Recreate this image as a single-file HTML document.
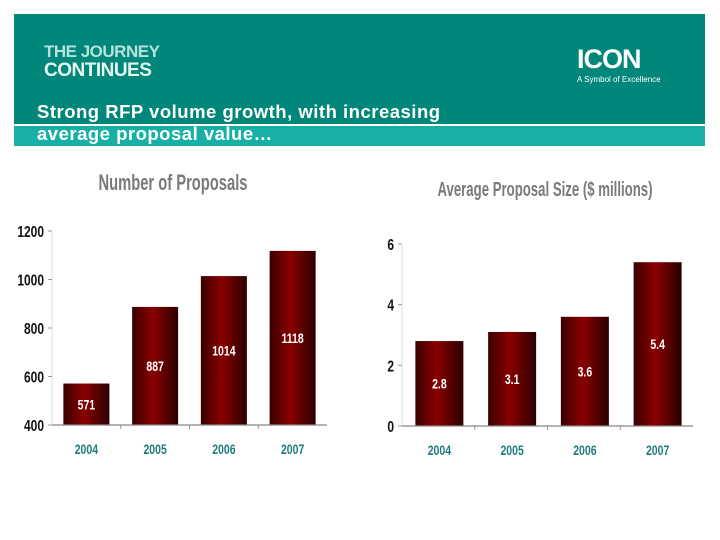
<!DOCTYPE html>
<html><head><meta charset="utf-8"><style>
body{margin:0;width:720px;height:540px;background:#fff;font-family:"Liberation Sans",sans-serif;position:relative;overflow:hidden}
.abs{position:absolute}
</style></head><body>
<div class="abs" style="left:14px;top:14px;width:691px;height:110px;background:#00877a"></div>
<div class="abs" style="left:14px;top:126px;width:691px;height:20px;background:#17afa6"></div>
<div class="abs" style="left:44px;top:42px;color:#b5e3dc;font-weight:bold;font-size:17px;line-height:19px;letter-spacing:-0.5px">THE JOURNEY<br><span style="color:#e6f5f2;font-size:19px">CONTINUES</span></div>
<div class="abs" style="left:577px;top:44px;color:#fff;font-weight:bold;font-size:27px;letter-spacing:-1px">ICON</div>
<div class="abs" style="left:577px;top:75px;color:#fff;font-size:8px">A Symbol of Excellence</div>
<div class="abs" style="left:37px;top:101px;color:#fff;font-weight:bold;font-size:18.5px;line-height:22px;letter-spacing:0.5px">Strong RFP volume growth, with increasing<br>average proposal value…</div>
<svg class="abs" style="left:0;top:0" width="720" height="540" id="svg">
<defs><linearGradient id="bg" x1="0" x2="1"><stop offset="0" stop-color="#3a0000"/><stop offset="0.45" stop-color="#8a0000"/><stop offset="1" stop-color="#2a0000"/></linearGradient></defs>
</svg>
<script>
const categories=["2004","2005","2006","2007"];
const proposals=[571,887,1014,1118];
const propTicks=[400,600,800,1000,1200];
const avgSize=[2.8,3.1,3.6,5.4];
const avgLabels=["2.8","3.1","3.6","5.4"];
const sizeTicks=[0,2,4,6];
const svg=document.getElementById('svg');
const NS="http://www.w3.org/2000/svg";
function mk(t,a,txt){const e=document.createElementNS(NS,t);for(const k in a)e.setAttribute(k,a[k]);if(txt!=null)e.textContent=txt;svg.appendChild(e);return e;}
function chart(c,vals,labels,ticks,prefix){
  const y=v=>c.y0-(v-c.min)/(c.max-c.min)*(c.y0-c.y1);
  const cw=(c.x1-c.x0)/categories.length;
  let t=mk('text',{x:c.tx,y:c.ty,'text-anchor':'middle','font-size':c.tfs,'font-weight':'bold',fill:'#7a7a7a',transform:`translate(${c.tx},0) scale(${c.tsx},1) translate(${-c.tx},0)`},c.title);
  
  let ax=mk('line',{x1:c.x0,x2:c.x0,y1:y(ticks[ticks.length-1]),y2:c.y0,stroke:'#ddd'});
  
  ticks.forEach(v=>{
    let l=mk('line',{x1:c.x0-4,x2:c.x0,y1:y(v),y2:y(v),stroke:'#999'});
    
    let tx=mk('text',{x:c.x0-8,y:y(v)+6,'text-anchor':'end','font-size':16,'font-weight':'bold',fill:'#111',transform:`translate(${c.x0-8},0) scale(0.75,1) translate(${-(c.x0-8)},0)`},String(v));
    
  });
  vals.forEach((v,i)=>{
    const cx=c.x0+cw*(i+0.5)+c.off;
    let r=mk('rect',{x:cx-c.bw/2,y:y(v),width:c.bw,height:c.y0-y(v),fill:'url(#bg)'});
    
    let lt=mk('text',{x:cx,y:(y(v)+c.y0)/2+5,'text-anchor':'middle','font-size':14,'font-weight':'bold',fill:'#fff',transform:`translate(${cx},0) scale(0.75,1) translate(${-cx},0)`},labels[i]);
    
    let xl=mk('text',{x:cx,y:c.y0+29,'text-anchor':'middle','font-size':14,'font-weight':'bold',fill:'#1e7d78',transform:`translate(${cx},0) scale(0.75,1) translate(${-cx},0)`},categories[i]);
    
    if(i>0){let tk=mk('line',{x1:c.x0+cw*i,x2:c.x0+cw*i,y1:c.y0,y2:c.y0+4,stroke:'#999'});}
  });
  let xa=mk('line',{x1:c.x0,x2:c.x1,y1:c.y0,y2:c.y0,stroke:'#888','stroke-width':1.2});
  
}
chart({x0:52,x1:327,y0:425,y1:231,min:400,max:1200,bw:46,off:0,title:'Number of Proposals',tx:173,ty:190,tfs:22,tsx:0.67},proposals,proposals.map(String),propTicks,'proposals');
chart({x0:402,x1:693,y0:426,y1:244,min:0,max:6,bw:48,off:1,title:'Average Proposal Size ($ millions)',tx:545,ty:196,tfs:20,tsx:0.66},avgSize,avgLabels,sizeTicks,'avg-size');
</script>
</body></html>
